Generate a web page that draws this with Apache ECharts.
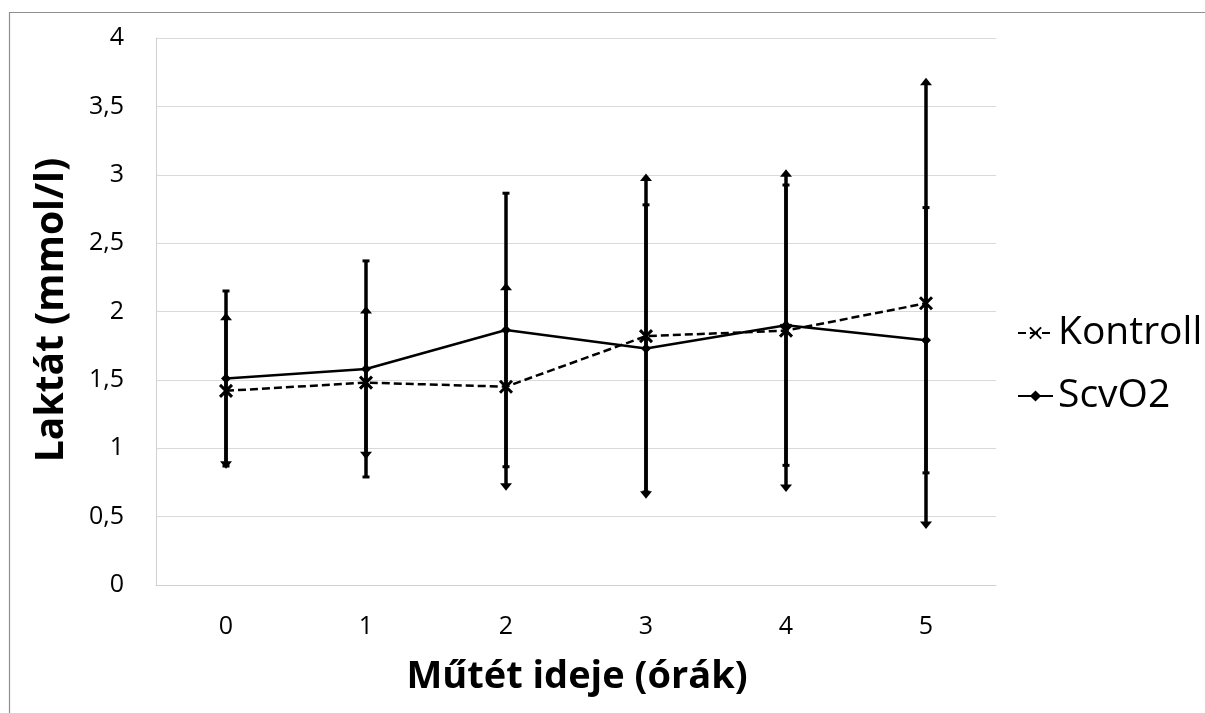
<!DOCTYPE html>
<html><head><meta charset="utf-8">
<script src="https://cdn.jsdelivr.net/npm/echarts@6/dist/echarts.min.js"></script>
<style>html,body{margin:0;padding:0;background:#fff}#c{width:1205px;height:713px}</style>
</head><body><div id="c"></div>
<script>
// ---- data ----
const categories = ['0', '1', '2', '3', '4', '5'];
const kontrollMean = [1.42, 1.48, 1.45, 1.82, 1.86, 2.06];
const kontrollErr  = [0.57, 0.56, 0.76, 1.19, 1.18, 1.65];
const scvo2Mean    = [1.51, 1.58, 1.865, 1.73, 1.90, 1.79];
const scvo2Err     = [0.64, 0.79, 1.00, 1.05, 1.025, 0.97];
const seriesNames  = ['Kontroll', 'ScvO2'];
const xTitle = 'Műtét ideje (órák)';
const yTitle = 'Laktát (mmol/l)';

const FONT = 'Open Sans';
const chart = echarts.init(document.getElementById('c'), null, {renderer: 'canvas'});

function errData(mean, err) { return mean.map((m, i) => [i, m - err[i], m + err[i]]); }

function errSeries(name, mean, err, capType) {
  return {
    type: 'custom', name: name + '_err', data: errData(mean, err), z: 1, silent: true,
    encode: {x: 0, y: [1, 2]},
    renderItem(params, api) {
      const i = api.value(0);
      const lo = api.coord([i, api.value(1)]);
      const hi = api.coord([i, api.value(2)]);
      const x = hi[0];
      const ch = [];
      if (capType === 'arrow') {
        ch.push({type: 'line', shape: {x1: x, y1: hi[1] + 4, x2: x, y2: lo[1] - 4}, style: {stroke: '#000', lineWidth: 3.5}});
        ch.push({type: 'polygon', shape: {points: [[x, hi[1]], [x - 6, hi[1] + 7.5], [x + 6, hi[1] + 7.5]]}, style: {fill: '#000'}});
        ch.push({type: 'polygon', shape: {points: [[x, lo[1]], [x - 6, lo[1] - 7.5], [x + 6, lo[1] - 7.5]]}, style: {fill: '#000'}});
      } else {
        ch.push({type: 'line', shape: {x1: x, y1: hi[1], x2: x, y2: lo[1]}, style: {stroke: '#000', lineWidth: 3.5}});
        ch.push({type: 'rect', shape: {x: x - 3.5, y: hi[1] - 1.5, width: 7, height: 3}, style: {fill: '#000'}});
        ch.push({type: 'rect', shape: {x: x - 3.5, y: lo[1] - 1.5, width: 7, height: 3}, style: {fill: '#000'}});
      }
      return {type: 'group', children: ch};
    }
  };
}

const option = {
  animation: false,
  backgroundColor: '#fff',
  grid: {left: 156, top: 38, width: 840, height: 547, containLabel: false},
  xAxis: {
    type: 'category', data: categories, boundaryGap: true,
    axisLine: {show: true, lineStyle: {color: '#d0d0d0', width: 1}},
    axisTick: {show: false},
    axisLabel: {fontSize: 25, color: '#000', margin: 29, fontFamily: FONT},
    splitLine: {show: false}
  },
  yAxis: {
    type: 'value', min: 0, max: 4, interval: 0.5,
    axisLine: {show: true, lineStyle: {color: '#d0d0d0', width: 1}},
    axisTick: {show: false},
    axisLabel: {fontSize: 25, color: '#000', margin: 32, fontFamily: FONT,
      formatter: v => String(v).replace('.', ',')},
    splitLine: {show: true, lineStyle: {color: '#d9d9d9', width: 1}}
  },
  legend: {
    orient: 'vertical', left: 1012, top: 308, itemGap: 23,
    itemWidth: 35, itemHeight: 14,
    data: seriesNames,
    textStyle: {fontSize: 39, color: '#000', fontFamily: FONT, lineHeight: 40}
  },
  graphic: [
    {type: 'rect', silent: true, shape: {x: 9.5, y: 12.5, width: 1400, height: 900},
     style: {fill: null, stroke: '#8f8f8f', lineWidth: 1.2}},
    {type: 'text', x: 577, y: 677, silent: true,
     style: {text: xTitle, fontSize: 38, fontWeight: 'bold', fontFamily: FONT, fill: '#000', align: 'center', verticalAlign: 'middle'}},
    {type: 'text', x: 52, y: 310, rotation: Math.PI / 2, silent: true,
     style: {text: yTitle, fontSize: 39, fontWeight: 'bold', fontFamily: FONT, fill: '#000', align: 'center', verticalAlign: 'middle'}}
  ],
  series: [
    errSeries('Kontroll', kontrollMean, kontrollErr, 'arrow'),
    errSeries('ScvO2', scvo2Mean, scvo2Err, 'cap'),
    {
      type: 'line', name: seriesNames[0], data: kontrollMean, z: 3,
      symbol: 'path://M0,0L10,10M10,0L0,10', symbolSize: 12, showSymbol: true,
      lineStyle: {color: '#000', width: 2.5, type: [8, 4]},
      itemStyle: {color: '#000', borderColor: '#000', borderWidth: 3}
    },
    {
      type: 'line', name: seriesNames[1], data: scvo2Mean, z: 3,
      symbol: 'diamond', symbolSize: 10, showSymbol: true,
      lineStyle: {color: '#000', width: 2.5, type: 'solid'},
      itemStyle: {color: '#000', borderColor: '#000', borderWidth: 0}
    }
  ]
};
chart.setOption(option);
</script>
</body></html>
